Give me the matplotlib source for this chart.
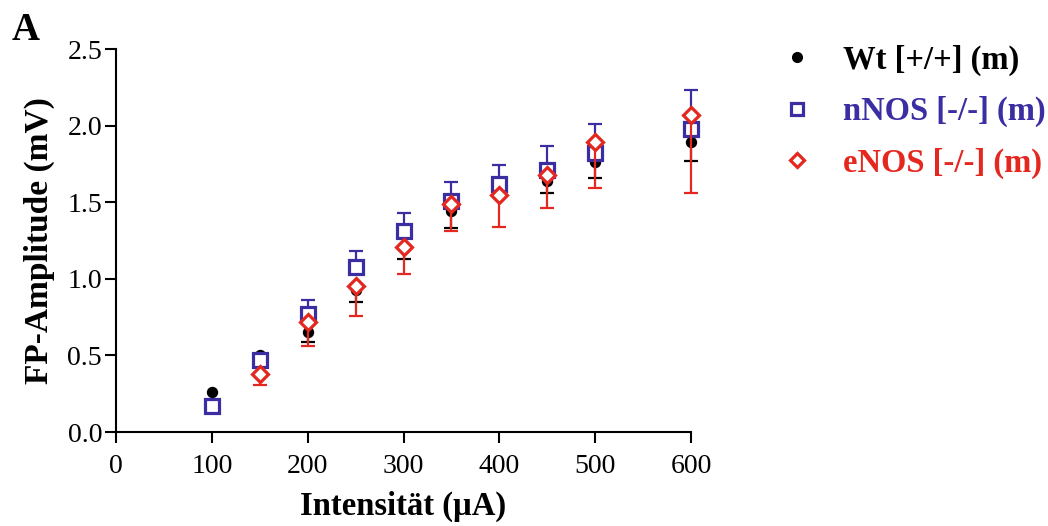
import matplotlib
matplotlib.use("Agg")
import matplotlib.pyplot as plt
from matplotlib.lines import Line2D
import numpy as np

plt.rcParams['font.family'] = ['Liberation Serif', 'DejaVu Serif']

# stimulus intensity (uA)
intens = [100, 150, 200, 250, 300, 350, 400, 450, 500, 600]

# Wt [+/+] : mean and lower SEM
wt_mean = [0.26, 0.50, 0.65, 0.93, 1.20, 1.44, 1.62, 1.64, 1.76, 1.89]
wt_sem = [np.nan, 0.05, 0.06, 0.08, 0.07, 0.11, 0.06, 0.08, 0.10, 0.12]

# nNOS [-/-] : mean and upper SEM
nnos_mean = [0.17, 0.47, 0.77, 1.08, 1.31, 1.51, 1.62, 1.71, 1.82, 1.98]
nnos_sem = [np.nan, 0.03, 0.09, 0.10, 0.12, 0.12, 0.12, 0.16, 0.19, 0.25]

# eNOS [-/-] : no 100 uA value, lower SEM
enos_x = [150, 200, 250, 300, 350, 400, 450, 500, 600]
enos_mean = [0.38, 0.72, 0.95, 1.21, 1.49, 1.55, 1.68, 1.89, 2.07]
enos_sem = [0.07, 0.16, 0.19, 0.18, 0.18, 0.21, 0.22, 0.30, 0.51]

blue = '#3a2ea2'
red = '#e4281f'

fig = plt.figure(figsize=(10.48, 5.26), dpi=100)
ax = fig.add_axes([0.1107, 0.1787, 0.5487, 0.7281])


def plot_group(x, y, err, side, color, marker, ms, mew, mfc):
    err = np.array(err, dtype=float)
    zero = np.zeros_like(err)
    yerr = [err, zero] if side == 'down' else [zero, err]
    _, caps, bars = ax.errorbar(x, y, yerr=yerr, fmt='none', ecolor=color,
                                elinewidth=1.6, capsize=4.8, capthick=1.6)
    # only the cap on the drawn side
    caps[1 if side == 'down' else 0].set_visible(False)
    for artist in list(caps) + list(bars):
        artist.set_clip_on(False)
    ax.plot(x, y, linestyle='none', marker=marker, ms=ms, mew=mew,
            mec=color, mfc=mfc, color=color, clip_on=False)


plot_group(intens, wt_mean, wt_sem, 'down', 'black', 'o', 8.2, 0, 'black')
plot_group(intens, nnos_mean, nnos_sem, 'up', blue, 's', 9.8, 2.3, 'white')
plot_group(enos_x, enos_mean, enos_sem, 'down', red, 'D', 8.2, 2.3, 'white')

ax.set_xlim(0, 600)
ax.set_ylim(0, 2.5)
ax.set_xticks([0, 100, 200, 300, 400, 500, 600])
ax.set_yticks([0.0, 0.5, 1.0, 1.5, 2.0, 2.5])
ax.set_yticklabels(['0.0', '0.5', '1.0', '1.5', '2.0', '2.5'])
for side in ['top', 'right']:
    ax.spines[side].set_visible(False)
for side in ['left', 'bottom']:
    ax.spines[side].set_linewidth(1.5)
ax.tick_params(axis='both', which='major', length=8, width=1.5,
               labelsize=20, direction='out')
ax.tick_params(axis='y', pad=2)
ax.tick_params(axis='x', pad=8)

ax.set_xlabel('Intensität (µA)', fontsize=23.5, fontweight='bold', labelpad=8)
ax.set_ylabel('FP-Amplitude (mV)', fontsize=24, fontweight='bold', labelpad=9)

fig.text(0.011, 0.924, 'A', fontsize=28, fontweight='bold', va='baseline')

handles = [
    Line2D([], [], linestyle='none', marker='o', ms=8, mew=0, color='black'),
    Line2D([], [], linestyle='none', marker='s', ms=9, mew=2.3, mec=blue, mfc='white'),
    Line2D([], [], linestyle='none', marker='D', ms=7.5, mew=2.3, mec=red, mfc='white'),
]
labels = ['Wt [+/+] (m)', 'nNOS [-/-] (m)', 'eNOS [-/-] (m)']
leg = fig.legend(handles, labels, loc='upper left', bbox_to_anchor=(0.745, 0.915),
                 frameon=False, handlelength=1.0, handletextpad=0.9,
                 borderpad=0, borderaxespad=0, labelspacing=0.62,
                 labelcolor=['black', blue, red],
                 prop={'size': 23.5, 'weight': 'bold'})

fig.savefig('out.png', dpi=100)
